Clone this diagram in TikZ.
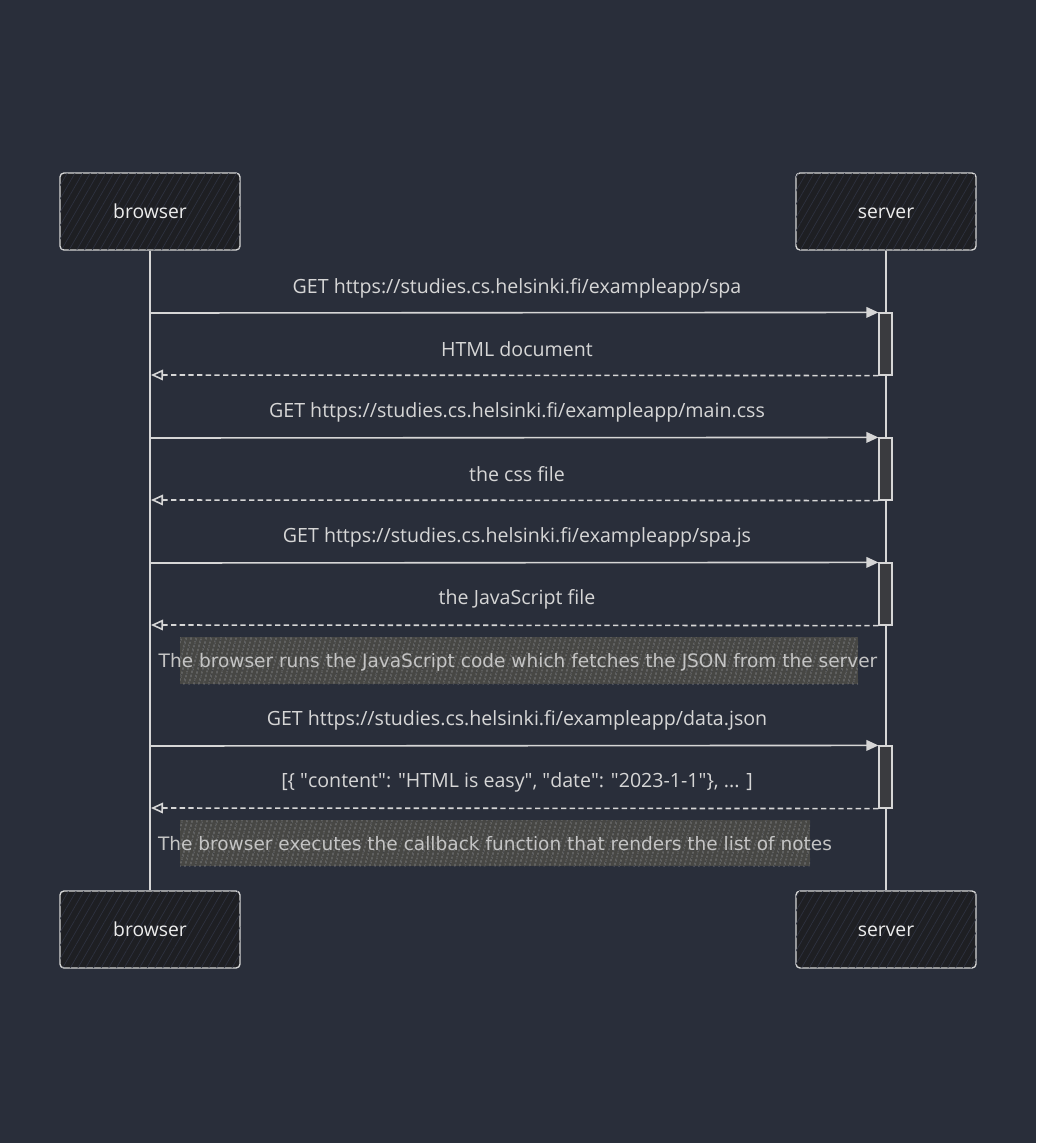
\documentclass[tikz,border=0pt]{standalone}
\usepackage{fontspec}
\setmainfont{Open Sans}[Ligatures={NoCommon}]
\newfontfamily\notefont{DejaVu Sans}[Ligatures={NoCommon}]
\usetikzlibrary{arrows.meta,patterns.meta}
\definecolor{bg}{HTML}{292E3A}
\definecolor{ink}{HTML}{D6D6D6}
\definecolor{boxtext}{HTML}{ECECEC}
\definecolor{boxfill}{HTML}{1E1F23}
\definecolor{boxhatch}{HTML}{2E3240}
\definecolor{notefill}{HTML}{474744}
\definecolor{notehatch}{HTML}{3A3D44}
\definecolor{notetext}{HTML}{C4C4C4}
\definecolor{actfill}{HTML}{3A3B3F}
\newcommand\dq{\textquotedbl}
\tikzset{
  actor/.style={draw=ink, line width=1pt, fill=boxfill, rounded corners=3pt,
    minimum width=135pt, minimum height=57.75pt, text=boxtext,
    text height=1.05em, text depth=0pt,
    font=\fontsize{14.5}{17}\selectfont,
    postaction={pattern={Lines[angle=60,distance=5pt,line width=0.5pt]}, pattern color=boxhatch}},
  life/.style={draw=ink, line width=1.1pt},
  actbar/.style={draw=ink, line width=0.9pt, fill=actfill,
    minimum width=9.75pt, minimum height=46.5pt, inner sep=0pt},
  msg/.style={draw=ink, line width=1.2pt, -{Triangle[length=9pt,width=8pt,fill=ink]}},
  ret/.style={draw=ink, line width=1.2pt, dash pattern=on 4pt off 2.5pt, -{Triangle[open,length=9pt,width=8pt]}},
  lbl/.style={text=ink, font=\fontsize{14.7}{17}\selectfont, inner sep=1pt},
  notebox/.style={fill=notefill, draw=none, inner sep=0pt,
    postaction={pattern={Lines[angle=75,distance=4pt,line width=0.5pt]}, pattern color=notehatch}},
  notetxt/.style={text=notetext, font=\notefont\fontsize{13.9}{16}\selectfont, inner sep=1pt}
}
\begin{document}
\begin{tikzpicture}[x=0.75pt,y=-0.75pt]
\fill[bg] (0,0) rectangle (1036,1143);
\useasboundingbox (0,0) rectangle (1036,1143);

% actors
\node[actor] (bt) at (150,211.5) {browser};
\node[actor] (st) at (886,211.5) {server};
\node[actor] (bb) at (150,929.5) {browser};
\node[actor] (sb) at (886,929.5) {server};

% lifelines
\draw[life] (bt.south) -- (bb.north);
\draw[life] (st.south) -- (sb.north);

% notes (behind text)
\node[notebox, minimum width=508.5pt, minimum height=35.25pt] (n1) at (519,660.5) {};
\node[notebox, minimum width=472.5pt, minimum height=34.5pt] (n2) at (495,843) {};

% activation bars
\node[actbar] (a1) at (885.5,344) {};
\node[actbar] (a2) at (885.5,469) {};
\node[actbar] (a3) at (885.5,594) {};
\node[actbar] (a4) at (885.5,777) {};

% browser-side anchor points
\coordinate (b1) at (150,313);
\coordinate (r1) at (151,375);
\coordinate (b2) at (150,438);
\coordinate (r2) at (151,500);
\coordinate (b3) at (150,563);
\coordinate (r3) at (151,625);
\coordinate (b4) at (150,746);
\coordinate (r4) at (151,808);

% messages
\draw[msg] (b1) -- (a1.north west);
\draw[ret] (a1.south west) -- (r1);
\draw[msg] (b2) -- (a2.north west);
\draw[ret] (a2.south west) -- (r2);
\draw[msg] (b3) -- (a3.north west);
\draw[ret] (a3.south west) -- (r3);
\draw[msg] (b4) -- (a4.north west);
\draw[ret] (a4.south west) -- (r4);

% labels
\node[lbl] (l1) at (517,288.5) {GET https://studies.cs.helsinki.fi/exampleapp/spa};
\node[lbl] (l2) at (517,349.5) {HTML document};
\node[lbl] (l3) at (517,412.5) {GET https://studies.cs.helsinki.fi/exampleapp/main.css};
\node[lbl] (l4) at (517,474.5) {the css file};
\node[lbl] (l5) at (517,537.5) {GET https://studies.cs.helsinki.fi/exampleapp/spa.js};
\node[lbl] (l6) at (517,599.5) {the JavaScript file};
\node[lbl] (l7) at (517,720.5) {GET https://studies.cs.helsinki.fi/exampleapp/data.json};
\node[lbl] (l8) at (517,782.5) {[\{ \dq content\dq: \dq HTML is easy\dq, \dq date\dq: \dq 2023-1-1\dq\}, ... ]};

\node[notetxt] (t1) at (518,662) {The browser runs the JavaScript code which fetches the JSON from the server};
\node[notetxt] (t2) at (495,844) {The browser executes the callback function that renders the list of notes};
\end{tikzpicture}
\end{document}
